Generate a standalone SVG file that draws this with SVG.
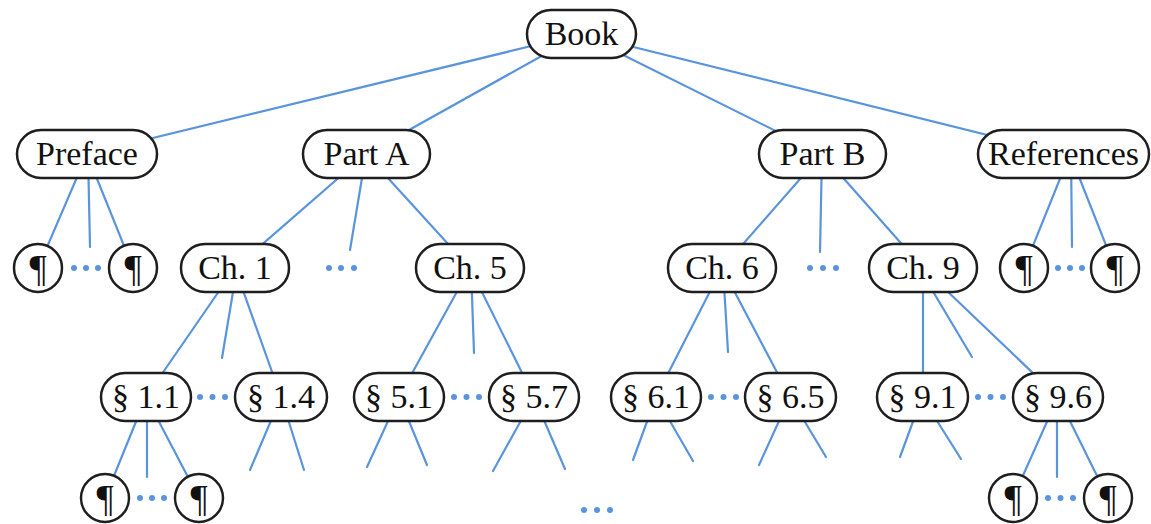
<svg xmlns="http://www.w3.org/2000/svg" width="1151" height="524" viewBox="0 0 1151 524">
<style>
.bg{fill:#ffffff}
.e{stroke:#5a94dc;stroke-width:2.2;fill:none;stroke-linecap:round}
.n{fill:#ffffff;stroke:#1e1e1e;stroke-width:2.5}
.t{font-family:"Liberation Serif","Times New Roman",serif;font-size:34px;fill:#111;text-anchor:middle}
.p{font-family:"Liberation Serif","Times New Roman",serif;font-size:38px;fill:#111;text-anchor:middle}
.d{fill:#5a94dc}
</style>
<rect class="bg" x="0" y="0" width="1151" height="524"/>
<g id="connectors">
<line class="e" x1="581" y1="34" x2="87" y2="154"/>
<line class="e" x1="581" y1="34" x2="366" y2="154"/>
<line class="e" x1="581" y1="34" x2="822" y2="154"/>
<line class="e" x1="581" y1="34" x2="1064" y2="154"/>
<line class="e" x1="87" y1="154" x2="38" y2="268"/>
<line class="e" x1="88" y1="154" x2="90" y2="247"/>
<line class="e" x1="87" y1="154" x2="133" y2="268"/>
<line class="e" x1="366" y1="154" x2="235" y2="268"/>
<line class="e" x1="366" y1="154" x2="350" y2="250"/>
<line class="e" x1="366" y1="154" x2="470" y2="268"/>
<line class="e" x1="822" y1="154" x2="722" y2="268"/>
<line class="e" x1="822" y1="154" x2="820" y2="252"/>
<line class="e" x1="822" y1="154" x2="923" y2="268"/>
<line class="e" x1="1070" y1="154" x2="1024" y2="268"/>
<line class="e" x1="1071" y1="154" x2="1072" y2="247"/>
<line class="e" x1="1070" y1="154" x2="1115" y2="268"/>
<line class="e" x1="235" y1="268" x2="146" y2="397"/>
<line class="e" x1="237" y1="268" x2="222" y2="358"/>
<line class="e" x1="235" y1="268" x2="281" y2="397"/>
<line class="e" x1="470" y1="268" x2="399" y2="397"/>
<line class="e" x1="471" y1="268" x2="474" y2="353"/>
<line class="e" x1="470" y1="268" x2="534" y2="397"/>
<line class="e" x1="722" y1="268" x2="656" y2="397"/>
<line class="e" x1="723" y1="268" x2="728" y2="352"/>
<line class="e" x1="722" y1="268" x2="790" y2="397"/>
<line class="e" x1="923" y1="268" x2="923" y2="397"/>
<line class="e" x1="919" y1="268" x2="972" y2="357"/>
<line class="e" x1="923" y1="268" x2="1058" y2="397"/>
<line class="e" x1="146" y1="397" x2="105" y2="498"/>
<line class="e" x1="147" y1="397" x2="147" y2="477"/>
<line class="e" x1="146" y1="397" x2="199" y2="498"/>
<line class="e" x1="281" y1="397" x2="250" y2="470"/>
<line class="e" x1="281" y1="397" x2="304" y2="470"/>
<line class="e" x1="399" y1="397" x2="367" y2="467"/>
<line class="e" x1="399" y1="397" x2="427" y2="465"/>
<line class="e" x1="534" y1="397" x2="493" y2="471"/>
<line class="e" x1="534" y1="397" x2="565" y2="469"/>
<line class="e" x1="656" y1="397" x2="633" y2="460"/>
<line class="e" x1="656" y1="397" x2="693" y2="461"/>
<line class="e" x1="790" y1="397" x2="759" y2="465"/>
<line class="e" x1="790" y1="397" x2="826" y2="457"/>
<line class="e" x1="922" y1="397" x2="900" y2="457"/>
<line class="e" x1="922" y1="397" x2="961" y2="459"/>
<line class="e" x1="1058" y1="397" x2="1013" y2="498"/>
<line class="e" x1="1057" y1="397" x2="1057" y2="477"/>
<line class="e" x1="1058" y1="397" x2="1108" y2="498"/>
<g id="dots">
<circle class="d" cx="74" cy="268" r="3"/><circle class="d" cx="86" cy="268" r="3"/><circle class="d" cx="98" cy="268" r="3"/>
<circle class="d" cx="329" cy="268" r="3"/><circle class="d" cx="341" cy="268" r="3"/><circle class="d" cx="354" cy="268" r="3"/>
<circle class="d" cx="810" cy="268" r="3"/><circle class="d" cx="823" cy="268" r="3"/><circle class="d" cx="836" cy="268" r="3"/>
<circle class="d" cx="1058" cy="268" r="3"/><circle class="d" cx="1070" cy="268" r="3"/><circle class="d" cx="1082" cy="268" r="3"/>
<circle class="d" cx="200" cy="397" r="3"/><circle class="d" cx="212.5" cy="397" r="3"/><circle class="d" cx="225" cy="397" r="3"/>
<circle class="d" cx="454" cy="397" r="3"/><circle class="d" cx="466.5" cy="397" r="3"/><circle class="d" cx="479" cy="397" r="3"/>
<circle class="d" cx="711" cy="397" r="3"/><circle class="d" cx="723.5" cy="397" r="3"/><circle class="d" cx="736" cy="397" r="3"/>
<circle class="d" cx="978" cy="397" r="3"/><circle class="d" cx="990.5" cy="397" r="3"/><circle class="d" cx="1003" cy="397" r="3"/>
<circle class="d" cx="140" cy="498" r="3"/><circle class="d" cx="152" cy="498" r="3"/><circle class="d" cx="164" cy="498" r="3"/>
<circle class="d" cx="1048" cy="498" r="3"/><circle class="d" cx="1060.5" cy="498" r="3"/><circle class="d" cx="1073" cy="498" r="3"/>
<circle class="d" cx="584" cy="510" r="3"/><circle class="d" cx="597" cy="510" r="3"/><circle class="d" cx="610" cy="510" r="3"/>
</g>
</g>
<g id="book"><rect class="n" x="527" y="10" width="109" height="48" rx="24"/><text class="t" x="581.5" y="45">Book</text></g>
<g id="preface"><rect class="n" x="17" y="130" width="140" height="48" rx="24"/><text class="t" x="87" y="165">Preface</text></g>
<g id="partA"><rect class="n" x="303" y="130" width="127" height="48" rx="24"/><text class="t" x="366.5" y="165">Part A</text></g>
<g id="partB"><rect class="n" x="759" y="130" width="127" height="48" rx="24"/><text class="t" x="822.5" y="165">Part B</text></g>
<g id="references"><rect class="n" x="978" y="130" width="171" height="48" rx="24"/><text class="t" x="1063.5" y="165">References</text></g>
<g id="pref-p1"><circle class="n" cx="38" cy="268" r="24"/><text class="p" x="38" y="281">¶</text></g>
<g id="pref-p2"><circle class="n" cx="133" cy="268" r="24"/><text class="p" x="133" y="281">¶</text></g>
<g id="ch1"><rect class="n" x="181" y="244" width="108" height="48" rx="24"/><text class="t" x="235" y="279">Ch. 1</text></g>
<g id="ch5"><rect class="n" x="416" y="244" width="108" height="48" rx="24"/><text class="t" x="470" y="279">Ch. 5</text></g>
<g id="ch6"><rect class="n" x="668" y="244" width="108" height="48" rx="24"/><text class="t" x="722" y="279">Ch. 6</text></g>
<g id="ch9"><rect class="n" x="869" y="244" width="108" height="48" rx="24"/><text class="t" x="923" y="279">Ch. 9</text></g>
<g id="ref-p1"><circle class="n" cx="1024" cy="268" r="24"/><text class="p" x="1024" y="281">¶</text></g>
<g id="ref-p2"><circle class="n" cx="1115" cy="268" r="24"/><text class="p" x="1115" y="281">¶</text></g>
<g id="s11"><rect class="n" x="101" y="373" width="90" height="48" rx="24"/><text class="t" x="146" y="408">§ 1.1</text></g>
<g id="s14"><rect class="n" x="235" y="373" width="92" height="48" rx="24"/><text class="t" x="281" y="408">§ 1.4</text></g>
<g id="s51"><rect class="n" x="354" y="373" width="90" height="48" rx="24"/><text class="t" x="399" y="408">§ 5.1</text></g>
<g id="s57"><rect class="n" x="489" y="373" width="90" height="48" rx="24"/><text class="t" x="534" y="408">§ 5.7</text></g>
<g id="s61"><rect class="n" x="611" y="373" width="90" height="48" rx="24"/><text class="t" x="656" y="408">§ 6.1</text></g>
<g id="s65"><rect class="n" x="745" y="373" width="91" height="48" rx="24"/><text class="t" x="790.5" y="408">§ 6.5</text></g>
<g id="s91"><rect class="n" x="877" y="373" width="91" height="48" rx="24"/><text class="t" x="922.5" y="408">§ 9.1</text></g>
<g id="s96"><rect class="n" x="1013" y="373" width="90" height="48" rx="24"/><text class="t" x="1058" y="408">§ 9.6</text></g>
<g id="s11-p1"><circle class="n" cx="105" cy="498" r="24"/><text class="p" x="105" y="511">¶</text></g>
<g id="s11-p2"><circle class="n" cx="199" cy="498" r="24"/><text class="p" x="199" y="511">¶</text></g>
<g id="s96-p1"><circle class="n" cx="1013" cy="498" r="24"/><text class="p" x="1013" y="511">¶</text></g>
<g id="s96-p2"><circle class="n" cx="1108" cy="498" r="24"/><text class="p" x="1108" y="511">¶</text></g>
</svg>
